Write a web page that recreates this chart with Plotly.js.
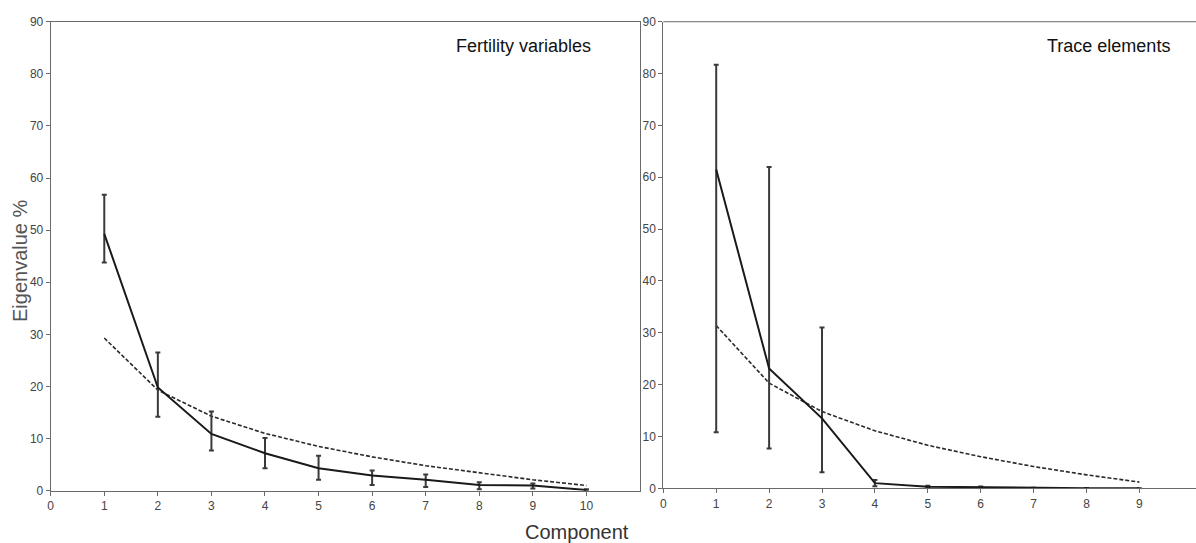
<!DOCTYPE html>
<html>
<head>
<meta charset="utf-8">
<script src="https://cdn.plot.ly/plotly-3.0.1.min.js"></script>
<style>
  html, body { margin: 0; padding: 0; background: #fff; }
  #chart { width: 1196px; height: 543px; }
</style>
</head>
<body>
<div id="chart"></div>
<script>
// Scree plots: observed eigenvalue % (with ranges) versus broken-stick expectation

// Fertility variables
const fertComponents = [1, 2, 3, 4, 5, 6, 7, 8, 9, 10];
const fertEigen      = [49.3, 19.8, 10.9, 7.2, 4.3, 2.9, 2.1, 1.1, 1.0, 0.15];
const fertUpper      = [56.8, 26.5, 15.2, 10.1, 6.7, 3.9, 3.1, 1.6, 1.4, 0.3];
const fertLower      = [43.8, 14.2, 7.7, 4.3, 2.1, 1.1, 0.7, 0.3, 0.4, 0.05];
const fertBroken     = [29.3, 19.3, 14.3, 11.0, 8.5, 6.5, 4.8, 3.4, 2.1, 1.0];

// Trace elements
const traceComponents = [1, 2, 3, 4, 5, 6, 7, 8, 9];
const traceEigen      = [61.5, 23.1, 13.5, 1.0, 0.3, 0.2, 0.05, 0.02, 0.01];
const traceUpper      = [81.7, 62.0, 31.0, 1.6, 0.5, 0.35, 0.1, 0.05, 0.02];
const traceLower      = [10.8, 7.7, 3.1, 0.4, 0.1, 0.05, 0.0, 0.0, 0.0];
const traceBroken     = [31.4, 20.3, 14.8, 11.1, 8.3, 6.1, 4.2, 2.6, 1.2];

const yTicks = [0, 10, 20, 30, 40, 50, 60, 70, 80, 90];

const diff = (a, b) => a.map((v, i) => Math.max(0, v - b[i]));

function observed(x, y, up, lo, xa, ya) {
  return {
    x: x, y: y, xaxis: xa, yaxis: ya,
    type: 'scatter', mode: 'lines',
    line: { color: '#1a1a1a', width: 2 },
    error_y: {
      type: 'data', symmetric: false,
      array: diff(up, y), arrayminus: diff(y, lo),
      color: '#3a3a3a', thickness: 2, width: 2.5
    },
    hoverinfo: 'x+y', showlegend: false
  };
}

function brokenStick(x, y, xa, ya) {
  return {
    x: x, y: y, xaxis: xa, yaxis: ya,
    type: 'scatter', mode: 'lines',
    line: { color: '#2a2a2a', width: 1.6, dash: '4px,2px' },
    hoverinfo: 'x+y', showlegend: false
  };
}

const data = [
  brokenStick(fertComponents, fertBroken, 'x', 'y'),
  observed(fertComponents, fertEigen, fertUpper, fertLower, 'x', 'y'),
  brokenStick(traceComponents, traceBroken, 'x2', 'y2'),
  observed(traceComponents, traceEigen, traceUpper, traceLower, 'x2', 'y2')
];

const labelFamily = 'Liberation Sans, Arial, sans-serif';
const tickFont = { family: labelFamily, size: 12, color: '#444' };

const axisBase = {
  showgrid: false, zeroline: false,
  showline: true, linecolor: '#6a6a6a', linewidth: 1,
  ticks: 'outside', ticklen: 4, tickwidth: 1, tickcolor: '#6a6a6a',
  tickfont: tickFont, fixedrange: true
};

const layout = {
  width: 1196, height: 543,
  margin: { l: 0, r: 0, t: 0, b: 0 },
  paper_bgcolor: '#ffffff', plot_bgcolor: '#ffffff',
  xaxis: Object.assign({}, axisBase, {
    domain: [0.0424, 0.5351], range: [0, 11],
    tickvals: [0, 1, 2, 3, 4, 5, 6, 7, 8, 9, 10], mirror: true, anchor: 'y'
  }),
  yaxis: Object.assign({}, axisBase, {
    domain: [0.0963, 0.960], range: [0, 90],
    tickvals: yTicks, mirror: true, anchor: 'x'
  }),
  xaxis2: Object.assign({}, axisBase, {
    domain: [0.5546, 1], range: [0, 10.07],
    tickvals: [0, 1, 2, 3, 4, 5, 6, 7, 8, 9], mirror: false, anchor: 'y2'
  }),
  yaxis2: Object.assign({}, axisBase, {
    domain: [0.1007, 0.960], range: [0, 90],
    tickvals: yTicks, mirror: false, anchor: 'x2'
  }),
  shapes: [
    // top frame edge of the right panel (open on its right side)
    { type: 'line', xref: 'x2 domain', yref: 'y2 domain', x0: 0, x1: 1, y0: 1, y1: 1,
      line: { color: '#6a6a6a', width: 1 } }
  ],
  annotations: [
    { text: 'Fertility variables', xref: 'paper', yref: 'paper',
      x: 593 / 1196, y: 1 - 46 / 543, xanchor: 'right', yanchor: 'middle',
      showarrow: false, font: { family: labelFamily, size: 18, color: '#111' } },
    { text: 'Trace elements', xref: 'paper', yref: 'paper',
      x: 1172 / 1196, y: 1 - 46 / 543, xanchor: 'right', yanchor: 'middle',
      showarrow: false, font: { family: labelFamily, size: 18, color: '#111' } },
    { text: 'Eigenvalue %', xref: 'paper', yref: 'paper',
      x: 20 / 1196, y: 1 - 261 / 543, xanchor: 'center', yanchor: 'middle', textangle: -90,
      showarrow: false, font: { family: labelFamily, size: 20, color: '#555' } },
    { text: 'Component', xref: 'paper', yref: 'paper',
      x: 577 / 1196, y: 1 - 532 / 543, xanchor: 'center', yanchor: 'middle',
      showarrow: false, font: { family: labelFamily, size: 20, color: '#333' } }
  ]
};

Plotly.newPlot('chart', data, layout, { displayModeBar: false, staticPlot: true });
</script>
</body>
</html>
